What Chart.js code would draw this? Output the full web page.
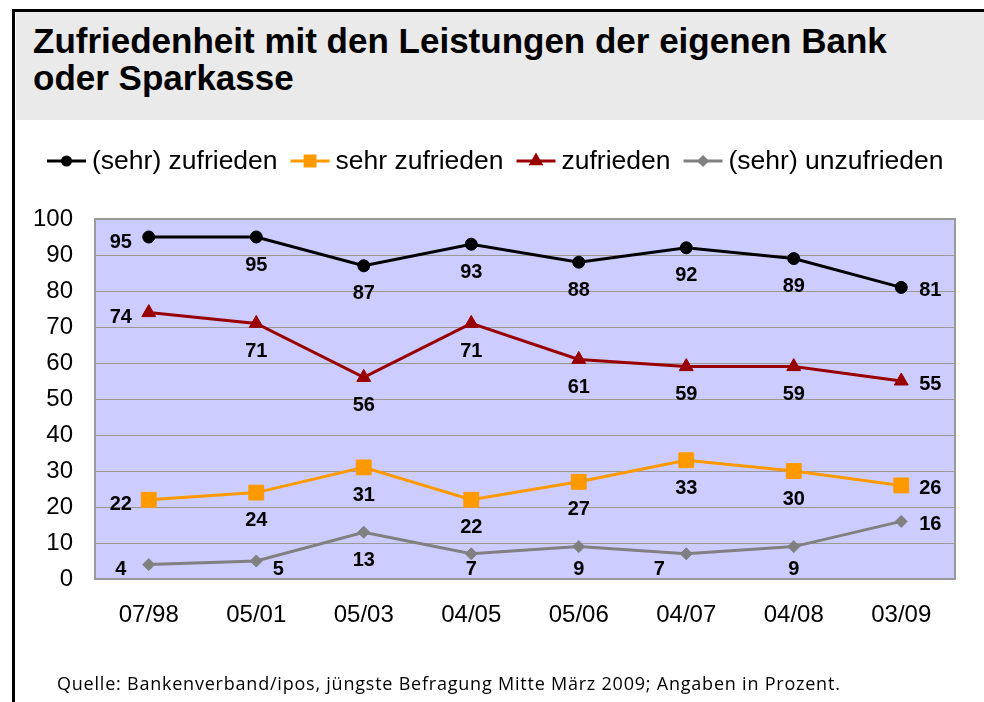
<!DOCTYPE html>
<html>
<head>
<meta charset="utf-8">
<script src="https://cdn.jsdelivr.net/npm/chart.js@4.4.1/dist/chart.umd.min.js"></script>
<style>
  body { margin: 0; width: 984px; height: 702px; background: #fff; overflow: hidden; position: relative; }
  #frame { position: absolute; left: 12px; top: 9px; right: 0; bottom: 0; border-left: 3px solid #000; border-top: 3px solid #000; }
  #title { position: absolute; left: 16px; top: 12px; width: 968px; height: 108px; background: #eaeaea; box-sizing: border-box;
           padding: 10px 0 0 17px; font: bold 35px "Liberation Sans", Arial, sans-serif; line-height: 37px; color: #000; }
  #source { position: absolute; left: 57px; top: 671px; font: 18px "Open Sans", sans-serif; letter-spacing: 0.78px; color: #000; white-space: nowrap; }
  #wrap { position: absolute; left: 0; top: 0; width: 984px; height: 702px; }
</style>
</head>
<body>
<div id="frame"></div>
<div id="title">Zufriedenheit mit den Leistungen der eigenen Bank<br>oder Sparkasse</div>
<div id="wrap"><canvas id="chart"></canvas></div>
<div id="source">Quelle: Bankenverband/ipos, jüngste Befragung Mitte März 2009; Angaben in Prozent.</div>

<script>
// Chart data
const categories = ['07/98', '05/01', '05/03', '04/05', '05/06', '04/07', '04/08', '03/09'];
const seriesNames = ['(sehr) zufrieden', 'sehr zufrieden', 'zufrieden', '(sehr) unzufrieden'];
const sehrZufriedenGesamt = [95, 95, 87, 93, 88, 92, 89, 81];
const sehrZufrieden = [22, 24, 31, 22, 27, 33, 30, 26];
const zufrieden = [74, 71, 56, 71, 61, 59, 59, 55];
const unzufrieden = [4, 5, 13, 7, 9, 7, 9, 16];
const yTicks = [0, 10, 20, 30, 40, 50, 60, 70, 80, 90, 100];

// where each value label sits relative to its point
const labelPlacement = [
  ['l', 'b', 'b', 'b', 'b', 'b', 'b', 'r'],
  ['l', 'b', 'b', 'b', 'b', 'b', 'b', 'r'],
  ['l', 'b', 'b', 'b', 'b', 'b', 'b', 'r'],
  ['l', 'br', 'b', 'b', 'b', 'bl', 'b', 'r']
];
const offsets = {
  l: [-28, 5], r: [29, 3], b: [0, 28], br: [22, 28], bl: [-27, 28]
};

const FONT = '"Liberation Sans", Arial, sans-serif';

const styles = [
  { color: '#000000', pointStyle: 'circle', radius: 6, legendRadius: 4 },
  { color: '#ff9900', pointStyle: 'rect', radius: 10.5, legendRadius: 7 },
  { color: '#990000', pointStyle: 'triangle', radius: 8, legendRadius: 5.5 },
  { color: '#808080', pointStyle: 'rectRot', radius: 6, legendRadius: 4 }
];

const seriesData = [sehrZufriedenGesamt, sehrZufrieden, zufrieden, unzufrieden];

// plot background + border
const plotBackground = {
  id: 'plotBackground',
  beforeDraw(chart) {
    const { ctx, chartArea: a } = chart;
    ctx.save();
    ctx.fillStyle = '#ccccff';
    ctx.fillRect(a.left, a.top, a.right - a.left, a.bottom - a.top);
    ctx.restore();
  },
  beforeDatasetsDraw(chart) {
    const { ctx, chartArea: a } = chart;
    ctx.save();
    ctx.strokeStyle = '#999999';
    ctx.lineWidth = 2;
    ctx.strokeRect(a.left, a.top, a.right - a.left, a.bottom - a.top);
    ctx.restore();
  }
};

// value labels
const valueLabels = {
  id: 'valueLabels',
  afterDatasetsDraw(chart) {
    const { ctx, chartArea: a } = chart;
    ctx.save();
    ctx.font = 'bold 20px ' + FONT;
    ctx.fillStyle = '#000';
    ctx.textAlign = 'center';
    ctx.textBaseline = 'middle';
    chart.data.datasets.forEach((ds, i) => {
      chart.getDatasetMeta(i).data.forEach((pt, j) => {
        const off = offsets[labelPlacement[i][j]];
        let y = pt.y + off[1];
        if (y > a.bottom - 10) y = a.bottom - 10;
        ctx.fillText(String(ds.data[j]), pt.x + off[0], y);
      });
    });
    ctx.restore();
  }
};

// legend with line + marker
const lineLegend = {
  id: 'lineLegend',
  afterDraw(chart) {
    const ctx = chart.ctx;
    const y = 161;
    let x = 47;
    ctx.save();
    ctx.font = '26.5px ' + FONT;
    ctx.textBaseline = 'middle';
    seriesNames.forEach((name, i) => {
      const s = styles[i];
      ctx.strokeStyle = s.color;
      ctx.lineWidth = 3;
      ctx.beginPath();
      ctx.moveTo(x, y);
      ctx.lineTo(x + 39, y);
      ctx.stroke();
      ctx.fillStyle = s.color;
      Chart.helpers.drawPoint(ctx, { pointStyle: s.pointStyle, radius: s.legendRadius, borderWidth: 1 }, x + 19.5, y);
      ctx.fillStyle = '#000';
      ctx.fillText(name, x + 45, y + 1);
      x += 45 + ctx.measureText(name).width + 13;
    });
    ctx.restore();
  }
};

new Chart(document.getElementById('chart'), {
  type: 'line',
  data: {
    labels: categories,
    datasets: seriesData.map((d, i) => ({
      label: seriesNames[i],
      data: d,
      borderColor: styles[i].color,
      backgroundColor: styles[i].color,
      borderWidth: 3,
      pointStyle: styles[i].pointStyle,
      pointRadius: styles[i].radius,
      pointBorderWidth: 1,
      pointBorderColor: styles[i].color,
      tension: 0,
      clip: false
    }))
  },
  options: {
    responsive: true,
    maintainAspectRatio: false,
    animation: false,
    layout: { padding: { top: 219, right: 29, bottom: 63, left: 0 } },
    plugins: { legend: { display: false }, tooltip: { enabled: false } },
    scales: {
      x: {
        offset: true,
        grid: { display: false, drawTicks: false },
        border: { display: false },
        ticks: { color: '#000', font: { family: FONT, size: 24 }, padding: 22, maxRotation: 0 },
        afterFit(scale) { scale.height = 60; }
      },
      y: {
        min: 0,
        max: 100,
        afterBuildTicks(scale) { scale.ticks = yTicks.map(v => ({ value: v })); },
        grid: { color: '#999999', lineWidth: 1, drawTicks: false },
        border: { display: false },
        ticks: { color: '#000', font: { family: FONT, size: 24 }, padding: 22 },
        afterFit(scale) { scale.width = 95; }
      }
    }
  },
  plugins: [plotBackground, valueLabels, lineLegend]
});
</script>
</body>
</html>
